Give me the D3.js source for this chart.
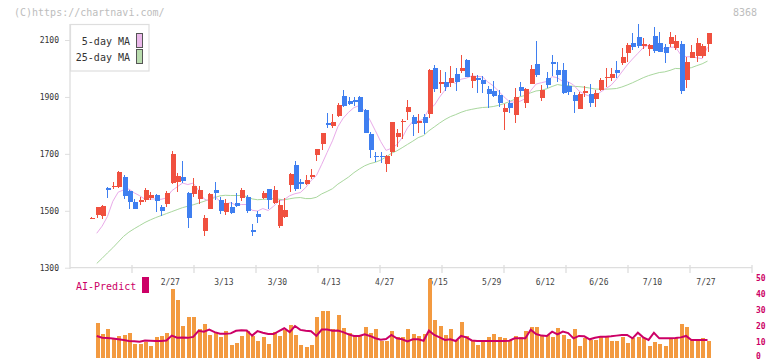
<!DOCTYPE html>
<html><head><meta charset="utf-8">
<script src="https://cdn.jsdelivr.net/npm/d3@7"></script>
<style>
html,body{margin:0;padding:0;background:#fff;}
svg{display:block;}
text{font-family:"DejaVu Sans Mono","Liberation Mono",monospace;}
</style></head>
<body>
<svg id="chart" width="772" height="361"></svg>
<script>
// ---- data ----
const opens = [1474,1486,1483,1580,1584,1584,1618,1571,1530,1531,1538,1546,1555,1513,1524,1599,1600,1619,1563,1559,1541,1429,1507,1572,1539,1497,1514,1527,1545,1548,1433,1489,1545,1575,1527,1447,1478,1591,1662,1602,1593,1617,1696,1734,1808,1799,1834,1903,1886,1889,1901,1854,1770,1693,1694,1665,1708,1760,1813,1847,1828,1812,1830,1841,2003,1947,1952,1948,1981,1991,2030,1957,1968,1960,1928,1921,1907,1848,1880,1838,1935,1880,1947,2016,1897,1967,2023,1995,1995,1938,1907,1859,1915,1910,1894,1924,1969,1968,1995,2020,2053,2090,2111,2080,2069,2114,2090,2077,2087,2071,2086,1960,2038,2044,2044,2087];
const highs = [1477,1515,1520,1582,1602,1640,1625,1573,1541,1549,1581,1566,1560,1520,1571,1711,1632,1675,1565,1614,1588,1484,1563,1601,1550,1542,1530,1561,1580,1555,1452,1500,1568,1577,1587,1538,1544,1631,1675,1610,1624,1647,1718,1775,1843,1840,1878,1924,1901,1900,1905,1856,1777,1707,1708,1697,1813,1788,1821,1889,1837,1840,1840,1998,2012,1995,1988,2009,2001,2047,2033,1983,1977,1973,1937,1955,1924,1874,1889,1931,1952,1932,2012,2097,1942,1987,2047,2022,2020,1953,1918,1916,1937,1945,1923,1965,2003,2001,2026,2071,2088,2124,2156,2106,2085,2146,2128,2085,2127,2118,2097,2039,2083,2106,2086,2126];
const lows = [1473,1474,1470,1544,1575,1579,1540,1507,1505,1520,1532,1538,1497,1482,1514,1593,1567,1599,1440,1550,1523,1412,1505,1538,1489,1484,1488,1514,1534,1491,1412,1457,1540,1507,1525,1440,1474,1567,1571,1575,1590,1612,1675,1714,1790,1790,1830,1866,1871,1868,1846,1774,1687,1672,1668,1637,1692,1725,1752,1819,1763,1773,1770,1827,1917,1915,1922,1934,1922,1983,1969,1930,1915,1915,1860,1901,1866,1784,1843,1807,1905,1862,1945,1971,1886,1932,1975,1954,1912,1907,1845,1857,1901,1864,1866,1922,1936,1955,1965,2012,2024,2065,2071,2067,2044,2055,2057,2018,2077,2065,1909,1932,2036,2024,2036,2059];
const closes = [1476,1513,1516,1574,1588,1636,1552,1532,1507,1538,1573,1555,1535,1500,1562,1700,1622,1603,1474,1587,1573,1474,1559,1562,1499,1528,1492,1518,1573,1499,1427,1478,1562,1539,1573,1520,1503,1629,1575,1593,1608,1626,1717,1773,1801,1812,1872,1869,1876,1883,1848,1774,1712,1691,1691,1692,1812,1773,1815,1865,1806,1814,1810,1995,1928,1951,1936,1968,1954,2002,1971,1974,1959,1947,1911,1905,1880,1860,1862,1900,1921,1928,1999,1978,1924,1942,2014,1978,1913,1918,1887,1909,1920,1880,1914,1960,1971,1981,1985,2040,2083,2077,2080,2086,2083,2061,2059,2056,2109,2095,1922,2023,2058,2090,2079,2124];
// moving-average values before enough in-view closes exist
const ma5Head = [1421,1446,1480];               // candles 1..3
const ma25Head = [1315,1333,1352,1370,1390,1410,1425,1437,1448,1459,1468,1476,1483,1490,1497,1504,1511,1516,1521,1527,1533,1540,1546]; // candles 1..23
// AI-Predict panel (candles 1..115)
const volumes = [22,14.8,17.9,12.1,13.6,14.2,15.6,8.6,8.6,9.6,7.5,12.7,13.8,15.4,42.9,36.1,19.8,25.4,25.4,17.9,21,14.2,15.2,13.1,16.7,7.9,9.2,13.5,16.7,13.5,10.6,12.7,8.6,16,13.5,17.3,20.4,14.2,7.9,6.7,7.9,25.4,29.2,29.2,17.9,26.7,18.6,15.4,13.5,13.5,19.2,15.4,17.9,10.4,10.7,16.9,13,12.9,17.9,14.8,13.5,14.8,49.4,23.6,19.8,14.2,17.9,11.1,22.3,13.5,11.1,7.9,10.4,12.9,14.8,12.9,12.3,11.1,13.5,12.9,16.7,19.2,19.2,13.5,14.2,12.9,18.6,14.2,11.7,17.9,7.3,12.3,11.1,11.1,12.9,12.9,10.4,10.4,12.9,9.2,12.3,12.9,12.3,7.3,9.8,8.6,7.3,12.3,12.3,21,19.2,11.1,11.1,12.3,10.4];
const aiPredict = [13.6,12.5,12.3,12.0,11.5,11.0,10.5,10.3,10.0,10.8,10.6,10.4,10.4,10.8,13.8,12.5,12.6,12.4,13.0,16.8,16.2,17.6,16.0,15.0,15.0,15.2,16.8,17.2,17.0,13.8,16.6,15.6,14.8,14.8,16.6,18.4,16.0,19.8,17.4,16.8,16.5,13.6,17.6,17.6,16.8,17.0,16.0,14.6,13.6,13.6,14.6,13.6,12.2,11.3,11.7,14.2,12.1,11.5,10.1,11.5,11.5,10.6,16.9,14.2,12.7,11.1,11.5,10.4,13.6,12.7,10.8,10.4,10.4,10.4,10.4,10.4,10.4,10.6,12.1,12.1,12.1,17.5,14.8,13.8,13.6,16.3,14.6,16.3,15.4,12.1,13.6,13.4,11.5,12.5,13.1,13.1,13.4,13.8,14.2,14.2,12.1,15.6,12.7,11.1,15.6,12.1,12.1,12.1,12.3,12.7,13.6,11.1,11.1,11.1,11.1];
const priceTicks = [1300,1500,1700,1900,2100];
const dateLabels = ["2/27","3/13","3/30","4/13","4/27","5/15","5/29","6/12","6/26","7/10","7/27"];
const dateLabelIdx = [15,25,35,45,55,65,75,85,95,105,115];
const volTicks = [0,10,20,30,40,50];
const gridTickCount = 11;

// ---- scales ----
const svg = d3.select("#chart");
const n = closes.length;
const x = d3.scaleLinear().domain([0, n - 1]).range([91.4, 707.5]);
const y = d3.scaleLinear().domain([1300, 2100]).range([267.7, 40]);
const yv = d3.scaleLinear().domain([0, 50]).range([357.7, 277.7]);
const xFrame = d3.scaleLinear().domain([0, gridTickCount]).range([70, 752]);

const RED = "#f0503f", BLUE = "#3f7ff0", AXIS = "#dedede";

// header
svg.append("text").attr("x", 14).attr("y", 16).attr("font-size", 10).attr("fill", "#bdbdbd").text("(C)https://chartnavi.com/");
svg.append("text").attr("x", 757).attr("y", 16).attr("font-size", 10).attr("fill", "#bdbdbd").attr("text-anchor", "end").text("8368");

// frame: left axis + bottom axis
const yAxis = d3.axisLeft(y).tickValues(priceTicks).tickFormat(d3.format("d")).tickSize(5).tickPadding(6);
const gy = svg.append("g").attr("transform", "translate(70,0)").call(yAxis);
gy.select(".domain").remove();
gy.selectAll("line").attr("stroke", AXIS);
gy.selectAll("text").attr("font-size", 8).attr("fill", "#333").attr("font-family", "DejaVu Sans Mono");
svg.append("line").attr("x1", 70).attr("x2", 70).attr("y1", 24).attr("y2", 269).attr("stroke", AXIS).attr("stroke-width", 1.3);
svg.append("line").attr("x1", 70).attr("x2", 752).attr("y1", 267.7).attr("y2", 267.7).attr("stroke", AXIS).attr("stroke-width", 1.3);
svg.append("g").selectAll("line").data(d3.range(1, gridTickCount + 1)).join("line")
  .attr("x1", d => xFrame(d)).attr("x2", d => xFrame(d)).attr("y1", 265).attr("y2", 273)
  .attr("stroke", AXIS).attr("stroke-width", 1.3);

// date labels
svg.append("g").selectAll("text").data(dateLabels).join("text")
  .attr("x", (d, k) => x(dateLabelIdx[k]) - 1.5).attr("y", 285).attr("text-anchor", "middle")
  .attr("font-size", 8).attr("fill", "#444").text(d => d);

// moving averages
function ma(period, head) {
  const out = [];
  for (let i = 1; i < n; i++) {
    if (i < period - 1) out.push([i, head[i - 1]]);
    else out.push([i, d3.mean(closes.slice(i - period + 1, i + 1))]);
  }
  return out;
}
const line = d3.line().x(d => x(d[0])).y(d => y(d[1]));
svg.append("path").datum(ma(25, ma25Head)).attr("d", line).attr("fill", "none").attr("stroke", "#a9d79e").attr("stroke-width", 1);
svg.append("path").datum(ma(5, ma5Head)).attr("d", line).attr("fill", "none").attr("stroke", "#e9abe9").attr("stroke-width", 1);

// candles
const cg = svg.append("g").attr("shape-rendering", "crispEdges");
const idx = d3.range(n);
cg.selectAll("line").data(idx).join("line")
  .attr("x1", i => Math.round(x(i)) + 0.5).attr("x2", i => Math.round(x(i)) + 0.5)
  .attr("y1", i => y(highs[i])).attr("y2", i => y(lows[i]))
  .attr("stroke", i => closes[i] >= opens[i] ? RED : BLUE).attr("stroke-width", 1);
cg.selectAll("rect").data(idx).join("rect")
  .attr("x", i => Math.round(x(i)) - 1.5).attr("width", 5)
  .attr("y", i => y(Math.max(opens[i], closes[i])))
  .attr("height", i => Math.max(1.2, Math.abs(y(opens[i]) - y(closes[i]))))
  .attr("fill", i => closes[i] >= opens[i] ? RED : BLUE);

// legend
svg.append("rect").attr("x", 70.5).attr("y", 24.5).attr("width", 78.5).attr("height", 46.5).attr("fill", "#fff").attr("stroke", AXIS).attr("stroke-width", 1.2);
const leg = [["5-day MA", "#eab8ea", 41], ["25-day MA", "#b9dcae", 57]];
leg.forEach(([t, c, yy]) => {
  svg.append("text").attr("x", 130).attr("y", yy + 3.5).attr("text-anchor", "end").attr("font-size", 10).attr("fill", "#333").text(t);
  svg.append("rect").attr("x", 136.5).attr("y", yy - 7.5).attr("width", 6).attr("height", 14).attr("fill", c).attr("stroke", "#555").attr("stroke-width", 1);
});

// AI-Predict panel
svg.append("text").attr("x", 76).attr("y", 290).attr("font-size", 10).attr("fill", "#cc0066").text("AI-Predict");
svg.append("rect").attr("x", 142).attr("y", 277).attr("width", 7).attr("height", 16).attr("fill", "#cc0066");

const vIdx = d3.range(1, n);
svg.append("g").attr("shape-rendering", "crispEdges").selectAll("rect").data(vIdx).join("rect")
  .attr("x", i => Math.round(x(i)) - 1.5).attr("width", 4)
  .attr("y", i => yv(volumes[i - 1])).attr("height", i => yv(0) - yv(volumes[i - 1]))
  .attr("fill", "#f39a40");
svg.append("path").datum(vIdx).attr("fill", "none").attr("stroke", "#cc0066").attr("stroke-width", 2)
  .attr("d", d3.line().x(i => x(i)).y(i => yv(aiPredict[i - 1])));

const ay = d3.axisRight(yv).tickValues(volTicks).tickSize(0).tickPadding(0);
const gv = svg.append("g").attr("transform", "translate(756,0)").call(ay);
gv.select(".domain").remove();
gv.selectAll("text").attr("font-size", 8).attr("fill", "#cc0066").attr("font-weight", "bold")
  .attr("font-family", "DejaVu Sans Mono").attr("dy", d => d === 0 ? "0.05em" : "0.32em");
</script>
</body></html>
